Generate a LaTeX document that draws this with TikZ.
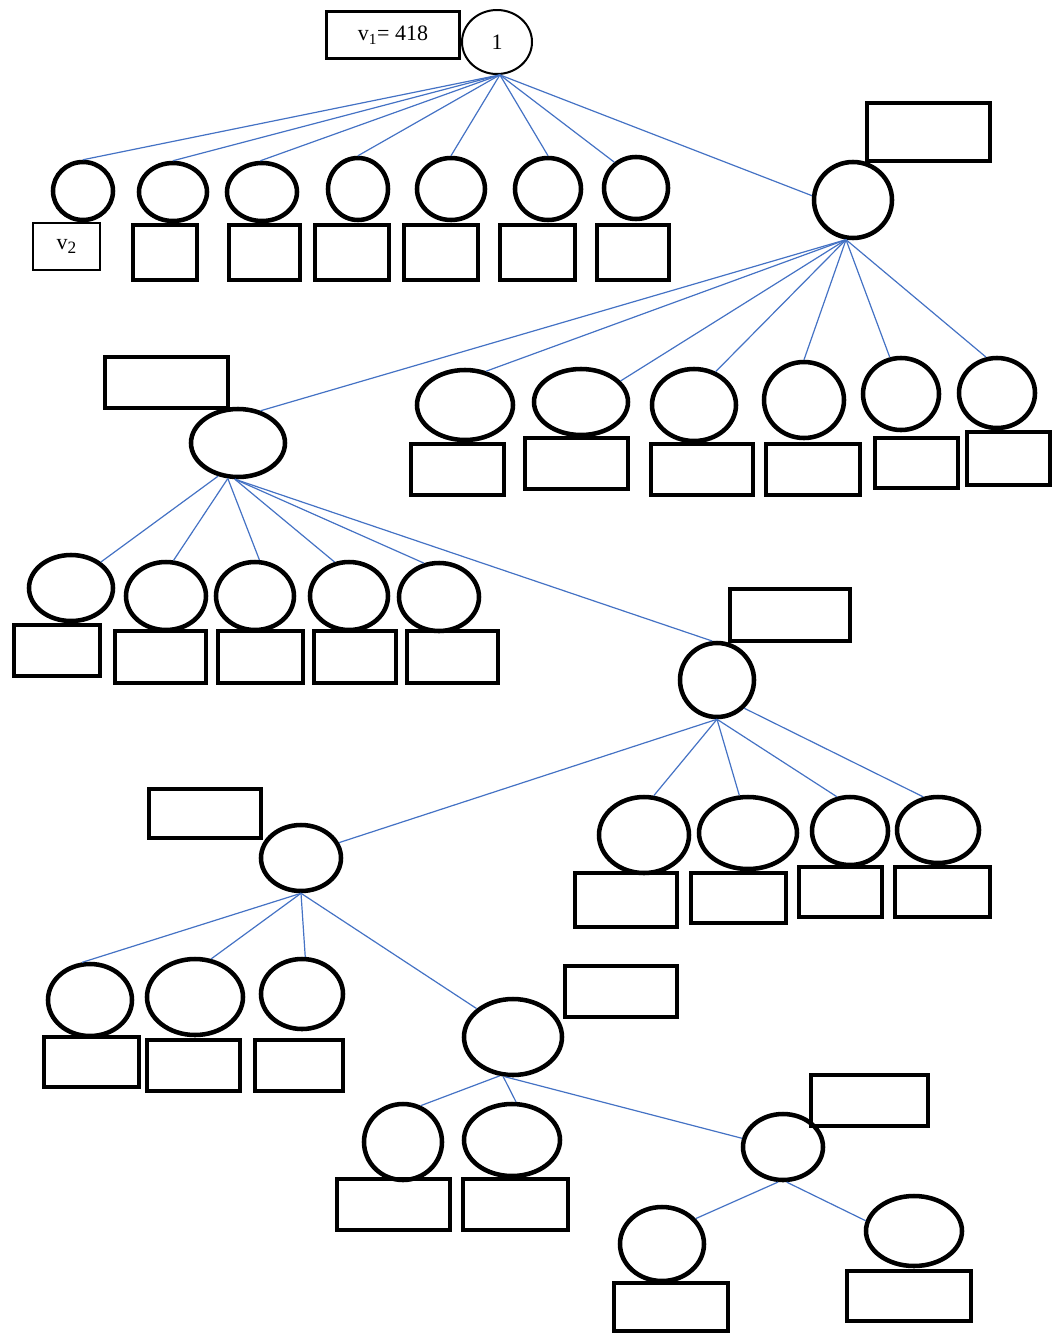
\documentclass[tikz,border=0pt]{standalone}
\usepackage{fontspec}
\setmainfont{Liberation Serif}
\usetikzlibrary{shapes.geometric}
\definecolor{lnblue}{RGB}{68,114,196}
\tikzset{
  ell/.style 2 args={draw, ellipse, line width=3.4pt, inner sep=0pt, minimum width=#1*1.5pt, minimum height=#2*1.5pt},
  thinell/.style 2 args={ell={#1}{#2}, line width=1.5pt},
  bx/.style 2 args={draw, rectangle, line width=3.6pt, inner sep=0pt, minimum width=#1*0.75pt, minimum height=#2*0.75pt},
  thinbx/.style 2 args={bx={#1}{#2}, line width=1.7pt},
  lnk/.style={draw=lnblue, line width=0.9pt}
}
\begin{document}
\begin{tikzpicture}[x=0.75pt,y=0.75pt,yscale=-1,font=\fontsize{16.5}{19}\selectfont]
\useasboundingbox (0,0) rectangle (1054,1335);

% Text Node
\node[thinbx={133}{47}] (v1) at (393,35) {v\textsubscript{1}= 418};
%Shape: Circle
\node[thinell={35}{32}] (root) at (497,42) {1};

%Shape: Ellipse (level 1)
\node[ell={30}{29}] (c1) at (83,191) {};
\node[ell={34}{29}] (c2) at (173,192) {};
\node[ell={35}{29}] (c3) at (262,192) {};
\node[ell={30}{31}] (c4) at (358,189) {};
\node[ell={34}{31}] (c5) at (451,189) {};
\node[ell={33}{31}] (c6) at (548,189) {};
\node[ell={32}{31}] (c7) at (636,188) {};
\node[ell={39}{38}] (A) at (853,200) {};
%Shape: Rectangle
\node[thinbx={67}{47}] (v2) at (66.5,246.5) {v\raisebox{-0.35ex}{\fontsize{13}{15}\selectfont 2}};
\node[bx={64}{55}] (c2b) at (165,252.5) {};
\node[bx={71}{55}] (c3b) at (264.5,252.5) {};
\node[bx={74}{55}] (c4b) at (352,252.5) {};
\node[bx={74}{55}] (c5b) at (441,252.5) {};
\node[bx={75}{55}] (c6b) at (537.5,252.5) {};
\node[bx={72}{55}] (c7b) at (633,252.5) {};
\node[bx={123}{58}] (Ab) at (928.5,132) {};

%Shape: Ellipse (level 2)
\node[ell={47}{34}] (B) at (238,443) {};
\node[ell={48}{35}] (d1) at (465,405) {};
\node[ell={47}{33}] (d2) at (581,402) {};
\node[ell={42}{36}] (d3) at (694,405) {};
\node[ell={40}{38}] (d4) at (804,400) {};
\node[ell={38}{36}] (d5) at (901,394) {};
\node[ell={38}{35}] (d6) at (997,393) {};
%Shape: Rectangle
\node[bx={123}{51}] (Bb) at (166.5,382.5) {};
\node[bx={93}{51}] (d1b) at (457.5,469.5) {};
\node[bx={103}{51}] (d2b) at (576.5,463.5) {};
\node[bx={102}{51}] (d3b) at (702,469.5) {};
\node[bx={94}{51}] (d4b) at (813,469.5) {};
\node[bx={83}{50}] (d5b) at (916.5,463) {};
\node[bx={83}{53}] (d6b) at (1008.5,458.5) {};

%Shape: Ellipse (level 3)
\node[ell={42}{33}] (e1) at (71,588) {};
\node[ell={40}{34}] (e2) at (166,596) {};
\node[ell={39}{34}] (e3) at (255,596) {};
\node[ell={39}{34}] (e4) at (349,596) {};
\node[ell={40}{34}] (e5) at (439,597) {};
\node[ell={37}{37}] (C) at (717,680) {};
%Shape: Rectangle
\node[bx={86}{51}] (e1b) at (57,650.5) {};
\node[bx={91}{52}] (e2b) at (160.5,657) {};
\node[bx={85}{52}] (e3b) at (260.5,657) {};
\node[bx={82}{52}] (e4b) at (355,657) {};
\node[bx={91}{52}] (e5b) at (452.5,657) {};
\node[bx={120}{52}] (Cb) at (790,615) {};

%Shape: Ellipse (level 4)
\node[ell={40}{33}] (D) at (301,858) {};
\node[ell={45}{38}] (f1) at (644,835) {};
\node[ell={49}{36}] (f2) at (748,833) {};
\node[ell={38}{34}] (f3) at (850,831) {};
\node[ell={41}{33}] (f4) at (938,830) {};
%Shape: Rectangle
\node[bx={112}{49}] (Db) at (205,813.5) {};
\node[bx={102}{54}] (f1b) at (626,900) {};
\node[bx={95}{50}] (f2b) at (738.5,898) {};
\node[bx={83}{50}] (f3b) at (840.5,892) {};
\node[bx={95}{50}] (f4b) at (942.5,892) {};

%Shape: Ellipse (level 5)
\node[ell={42}{36}] (g1) at (90,1000) {};
\node[ell={48}{38}] (g2) at (195,997) {};
\node[ell={41}{35}] (g3) at (302,994) {};
\node[ell={49}{38}] (E) at (513,1037) {};
%Shape: Rectangle
\node[bx={95}{50}] (g1b) at (91.5,1062) {};
\node[bx={93}{51}] (g2b) at (193.5,1065.5) {};
\node[bx={88}{51}] (g3b) at (299,1065.5) {};
\node[bx={112}{51}] (Eb) at (621,991.5) {};

%Shape: Ellipse (level 6 and 7)
\node[ell={39}{38}] (h1) at (403,1142) {};
\node[ell={48}{36}] (h2) at (512,1140) {};
\node[ell={40}{33}] (F) at (783,1147) {};
\node[ell={42}{37}] (i1) at (662,1244) {};
\node[ell={48}{35}] (i2) at (914,1231) {};
%Shape: Rectangle
\node[bx={113}{51}] (h1b) at (393.5,1204.5) {};
\node[bx={105}{51}] (h2b) at (515.5,1204.5) {};
\node[bx={117}{51}] (Fb) at (869.5,1100.5) {};
\node[bx={114}{48}] (i1b) at (671,1307) {};
\node[bx={124}{50}] (i2b) at (909,1296) {};

%Straight Lines
\draw[lnk] (root.-85) -- (c1.north);
\draw[lnk] (root.-85) -- (c2.north);
\draw[lnk] (root.-85) -- (c3.93);
\draw[lnk] (root.-85) -- (c4.north);
\draw[lnk] (root.-85) -- (c5.north);
\draw[lnk] (root.-85) -- (c6.north);
\draw[lnk] (root.-85) -- (c7.130);
\draw[lnk] (root.-85) -- (A.174);

\draw[lnk] (A.-100) -- (B.55);
\draw[lnk] (A.-100) -- (d1.58);
\draw[lnk] (A.-100) -- (d2.28);
\draw[lnk] (A.-100) -- (d3.57);
\draw[lnk] (A.-100) -- (d4.north);
\draw[lnk] (A.-100) -- (d5.107);
\draw[lnk] (A.-100) -- (d6.107);

\draw[lnk] (B.-121) -- (e1.41);
\draw[lnk] (B.-106) -- (e2.78);
\draw[lnk] (B.-106) -- (e3.83);
\draw[lnk] (B.-95) -- (e4.113);
\draw[lnk] (B.-95) -- (e5.114);
\draw[lnk] (B.-95) -- (C.97);

\draw[lnk] (C.south) -- (D.22);
\draw[lnk] (C.south) -- (f1.76);
\draw[lnk] (C.south) -- (f2.103);
\draw[lnk] (C.south) -- (f3.111);
\draw[lnk] (C.-46) -- (f4.114);

\draw[lnk] (D.south) -- (g1.102);
\draw[lnk] (D.south) -- (g2.67);
\draw[lnk] (D.south) -- (g3.85);
\draw[lnk] (D.south) -- (E.142);

\draw[lnk] (E.-109) -- (h1.64);
\draw[lnk] (E.-104) -- (h2.84);
\draw[lnk] (E.-101) -- (F.168);

\draw[lnk] (F.-98) -- (i1.37);
\draw[lnk] (F.-84) -- (i2.168);

\end{tikzpicture}
\end{document}
